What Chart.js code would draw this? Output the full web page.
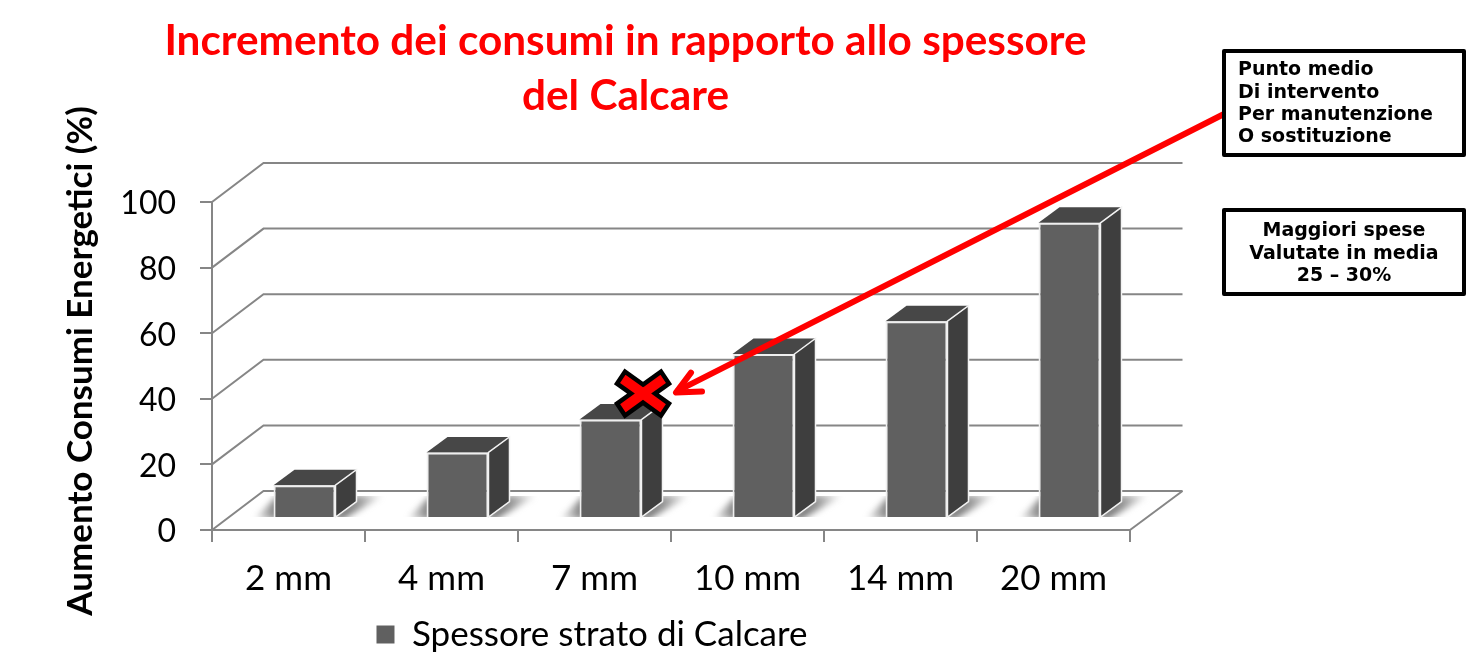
<!DOCTYPE html>
<html><head><meta charset="utf-8">
<style>html,body{margin:0;padding:0;background:#fff;overflow:hidden}canvas{display:block}</style>
<script src="https://cdn.jsdelivr.net/npm/chart.js@4"></script></head>
<body><canvas id="c" width="1466" height="661"></canvas>
<script>
const categories = ['2 mm','4 mm','7 mm','10 mm','14 mm','20 mm'];
const seriesValues = [10,20,30,50,60,90];
const seriesName = 'Spessore strato di Calcare';
const titleLines = ['Incremento dei consumi in rapporto allo spessore','del Calcare'];
const yTitle = 'Aumento Consumi Energetici (%)';
const box1Lines = ['Punto medio','Di intervento','Per manutenzione','O sostituzione'];
const box2Lines = ['Maggiori spese','Valutate in media','25 – 30%'];
const markedCategory = '7 mm';

const GRID='#868686';
const wallDX=51.5, wallDY=-39;      // depth of the 3D chart box
const barShiftX=16, barShiftY=-12;  // bars stand in the middle of the floor
const barDX=21, barDY=-15.5;        // depth of each bar

const depth3d={
  id:'depth3d',
  afterLayout(chart){
    // place title, legend and axis title where the reference has them
    const t=chart.titleBlock; const tdx=625.5-(t.left+t.right)/2; t.left+=tdx; t.right+=tdx;
    const l=chart.legend; l.left+=-3; l.right+=-3; l.top+=1; l.bottom+=1;
    const y=chart.scales.y;
    if(!y._shifted){ y._shifted=true; const orig=y.drawTitle;
      y.drawTitle=function(){ chart.ctx.save(); chart.ctx.translate(0,-5); orig.call(this); chart.ctx.restore(); }; }
  },
  beforeDatasetsDraw(chart){
    const {ctx,scales:{x,y}}=chart; const L=x.left,R=x.right;
    ctx.save(); ctx.strokeStyle=GRID; ctx.lineWidth=2;
    y.ticks.forEach(t=>{
      const p=y.getPixelForValue(t.value);
      ctx.beginPath(); ctx.moveTo(L,p); ctx.lineTo(L+wallDX,p+wallDY); ctx.lineTo(R+wallDX+1,p+wallDY); ctx.stroke();
    });
    const b=y.getPixelForValue(0);
    ctx.beginPath(); ctx.moveTo(R,b); ctx.lineTo(R+wallDX+1,b+wallDY); ctx.stroke();
    ctx.restore();
  },
  beforeDatasetDraw(chart,args){
    const {ctx}=chart; const meta=args.meta;
    // soft floor shadows
    ctx.save();
    meta.data.forEach(el=>{
      const x0=el.x-el.width/2+barShiftX,x1=el.x+el.width/2+barShiftX,b=el.base+barShiftY;
      ctx.save();
      ctx.beginPath(); ctx.rect(x0-30,b-21,el.width+110,21); ctx.clip();
      ctx.filter='blur(3px)';
      let g=ctx.createLinearGradient(x0-20,0,x0+5,0); g.addColorStop(0,'rgba(110,110,110,0)'); g.addColorStop(1,'rgba(110,110,110,1)');
      ctx.fillStyle=g; ctx.beginPath(); ctx.moveTo(x0-20,b+2); ctx.lineTo(x0+5,b+2); ctx.lineTo(x0+5,b-22); ctx.closePath(); ctx.fill();
      g=ctx.createLinearGradient(x1,0,x1+48,0); g.addColorStop(0,'rgba(100,100,100,1)'); g.addColorStop(.45,'rgba(120,120,120,.8)'); g.addColorStop(1,'rgba(130,130,130,0)');
      ctx.fillStyle=g; ctx.beginPath(); ctx.moveTo(x1-4,b+2); ctx.lineTo(x1+barDX,b-22); ctx.lineTo(x1+50,b-22); ctx.lineTo(x1+8,b+2); ctx.closePath(); ctx.fill();
      ctx.restore();
    });
    ctx.restore();
    ctx.save(); ctx.translate(barShiftX,barShiftY);
    meta.data.forEach(el=>{
      const x0=el.x-el.width/2,x1=el.x+el.width/2,t=el.y,b=el.base;
      ctx.fillStyle='#474747'; ctx.strokeStyle='#f2f2f2'; ctx.lineWidth=1.5;
      ctx.beginPath(); ctx.moveTo(x0,t); ctx.lineTo(x0+barDX,t+barDY); ctx.lineTo(x1+barDX,t+barDY); ctx.lineTo(x1,t); ctx.closePath(); ctx.fill();
      ctx.fillStyle='#3e3e3e';
      ctx.beginPath(); ctx.moveTo(x1,t); ctx.lineTo(x1+barDX,t+barDY); ctx.lineTo(x1+barDX,b+barDY); ctx.lineTo(x1,b); ctx.closePath(); ctx.fill(); ctx.stroke();
    });
  },
  afterDatasetDraw(chart){ chart.ctx.restore(); },
  afterDraw(chart){
    const {ctx}=chart;
    const el=chart.getDatasetMeta(0).data[categories.indexOf(markedCategory)];
    const cx=el.x+barShiftX+32.5, cy=el.y+barShiftY-26;
    // arrow
    ctx.save(); ctx.strokeStyle='#ff0000'; ctx.lineWidth=6; ctx.lineCap='round'; ctx.lineJoin='round';
    const tipX=cx+31, tipY=cy-1;
    ctx.beginPath(); ctx.moveTo(1224,114); ctx.lineTo(tipX+4,tipY-2); ctx.stroke();
    ctx.beginPath(); ctx.moveTo(tipX+17,tipY-20); ctx.lineTo(tipX+2,tipY); ctx.lineTo(tipX+28,tipY-1); ctx.stroke();
    // cross
    const P=[[0,-9],[18,-22],[26,-10],[12,0],[26,10],[18,22],[0,9],[-18,22],[-26,10],[-12,0],[-26,-10],[-18,-22]];
    ctx.beginPath(); P.forEach((p,i)=>i?ctx.lineTo(cx+p[0],cy+p[1]):ctx.moveTo(cx+p[0],cy+p[1])); ctx.closePath();
    ctx.fillStyle='#ff0000'; ctx.fill(); ctx.strokeStyle='#000'; ctx.lineWidth=4.5; ctx.lineJoin='miter'; ctx.stroke();
    // boxes
    ctx.lineCap='butt'; ctx.lineJoin='round';
    const drawBox=(x,y,w,h,lines,align,tx,ty)=>{
      ctx.fillStyle='#fff'; ctx.fillRect(x,y,w,h);
      ctx.strokeStyle='#000'; ctx.lineWidth=4; ctx.strokeRect(x,y,w,h);
      ctx.fillStyle='#000'; ctx.font='bold 19px "DejaVu Sans"'; ctx.textAlign=align; ctx.textBaseline='middle';
      lines.forEach((s,i)=>ctx.fillText(s,tx,ty+i*22.3));
    };
    drawBox(1224,51,240,104,box1Lines,'left',1238,70.5);
    drawBox(1224,210,240,84,box2Lines,'center',1344,231.5);
    ctx.restore();
  }
};

new Chart(document.getElementById('c'),{
  type:'bar',
  data:{labels:categories,datasets:[{label:seriesName,data:seriesValues,backgroundColor:'#606060',borderColor:'#efefef',borderWidth:2,barPercentage:0.405,categoryPercentage:1,clip:false}]},
  options:{
    responsive:false,animation:false,devicePixelRatio:1,
    layout:{padding:{left:60,right:336,top:0,bottom:0}},
    plugins:{
      tooltip:{enabled:false},
      title:{display:true,text:titleLines,color:'#ff0000',font:{family:'Lato',size:42.3,weight:'bold',lineHeight:1.3},padding:{top:14,bottom:78}},
      legend:{display:true,position:'bottom',labels:{color:'#000',font:{family:'Lato',size:35},boxWidth:18,boxHeight:18,padding:10,
        generateLabels:c=>Chart.defaults.plugins.legend.labels.generateLabels(c).map(i=>({...i,lineWidth:0}))}}
    },
    scales:{
      x:{grid:{drawOnChartArea:false,color:GRID,lineWidth:2,tickLength:12,offset:true},border:{color:GRID,width:2},
         ticks:{color:'#000',font:{family:'Lato',size:35},padding:16,maxRotation:0},
         afterFit:s=>{s.height=76;}},
      y:{min:0,max:100,grid:{drawOnChartArea:false,color:GRID,lineWidth:2,tickLength:12},border:{color:GRID,width:2},
         ticks:{stepSize:20,color:'#000',font:{family:'Lato',size:32},padding:24,labelOffset:2},
         title:{display:true,text:yTitle,color:'#000',font:{family:'Lato',size:35,weight:'bold'},padding:0},
         afterFit:s=>{s.width=152;}}
    }
  },
  plugins:[depth3d]
});
</script></body></html>
